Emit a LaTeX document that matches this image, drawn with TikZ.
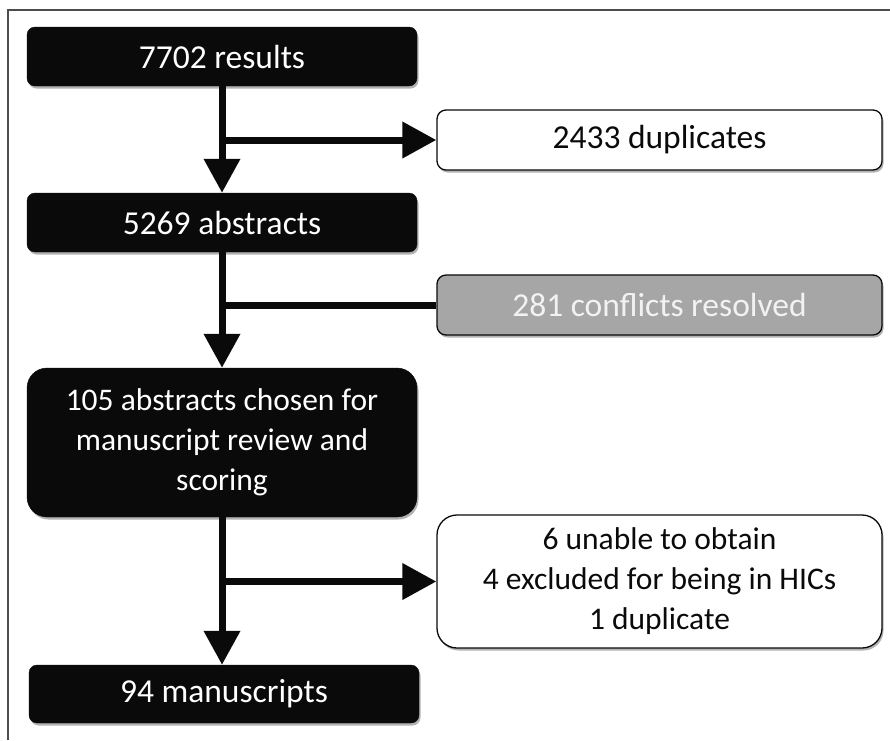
\documentclass[tikz,border=0pt]{standalone}
\usepackage{fontspec}
\setmainfont{Carlito}
\usetikzlibrary{arrows.meta,shadows}
\definecolor{boxblack}{HTML}{0A0A0A}
\definecolor{boxgrey}{HTML}{A6A6A6}
\definecolor{greytext}{HTML}{F2F2F2}
\definecolor{framecol}{HTML}{4D4D4D}
\tikzset{
  boxfont/.style={font=\fontsize{33.5}{40}\selectfont},
  smallfont/.style={font=\fontsize{31.5}{40}\selectfont},
  shade/.style={drop shadow={shadow xshift=1.5pt, shadow yshift=-2.5pt, opacity=0.3, fill=black}},
  mainbox/.style={boxfont, shade, rectangle, rounded corners=8pt, fill=boxblack, draw=boxblack,
    text=white, minimum width=390pt, inner sep=0pt, align=center},
  sidebox/.style={boxfont, shade, rectangle, rounded corners=9pt, fill=white, draw=boxblack,
    line width=1.3pt, text=boxblack, minimum width=445pt, inner sep=0pt, align=center},
  greybox/.style={sidebox, fill=boxgrey, text=greytext},
  flow/.style={line width=7pt, draw=boxblack},
  tip/.style={-{Triangle[width=35pt,length=34pt]}}
}
\begin{document}
\begin{tikzpicture}[x=1pt,y=-1pt]
\useasboundingbox (0,0) rectangle (890,740);
\fill[white] (0,0) rectangle (890,740);
\draw[framecol, line width=1.5pt] (8,740) -- (8,10) -- (890,10);

\node[mainbox, minimum height=59pt] (b1) at (222,56.5) {7702 results};
\node[mainbox, minimum height=59pt] (b2) at (222,222.5) {5269 abstracts};
\node[mainbox, smallfont, minimum height=149pt, rounded corners=20pt] (b3) at (222,442.5)
  {105 abstracts chosen for\\manuscript review and\\scoring};
\node[mainbox, minimum height=58pt] (b4) at (224,694) {94 manuscripts};

\node[sidebox, minimum height=60pt] (d1) at (659.5,140) {2433 duplicates};
\node[greybox, minimum height=60pt] (d2) at (659.5,305) {281 conflicts resolved};
\node[sidebox, smallfont, minimum height=133pt, rounded corners=20pt] (d3) at (659.5,581.5)
  {6 unable to obtain\\4 excluded for being in HICs\\1 duplicate};

\draw[flow, tip] (b1.south) -- (b2.north);
\draw[flow, tip] (b1.south |- d1.west) -- (d1.west);
\draw[flow, tip] (b2.south) -- (b3.north);
\draw[flow] (b2.south |- d2.west) -- (d2.west);
\draw[flow, tip] (b3.south) -- (b3.south |- b4.north);
\draw[flow, tip] (b3.south |- d3.west) -- (d3.west);
\end{tikzpicture}
\end{document}
